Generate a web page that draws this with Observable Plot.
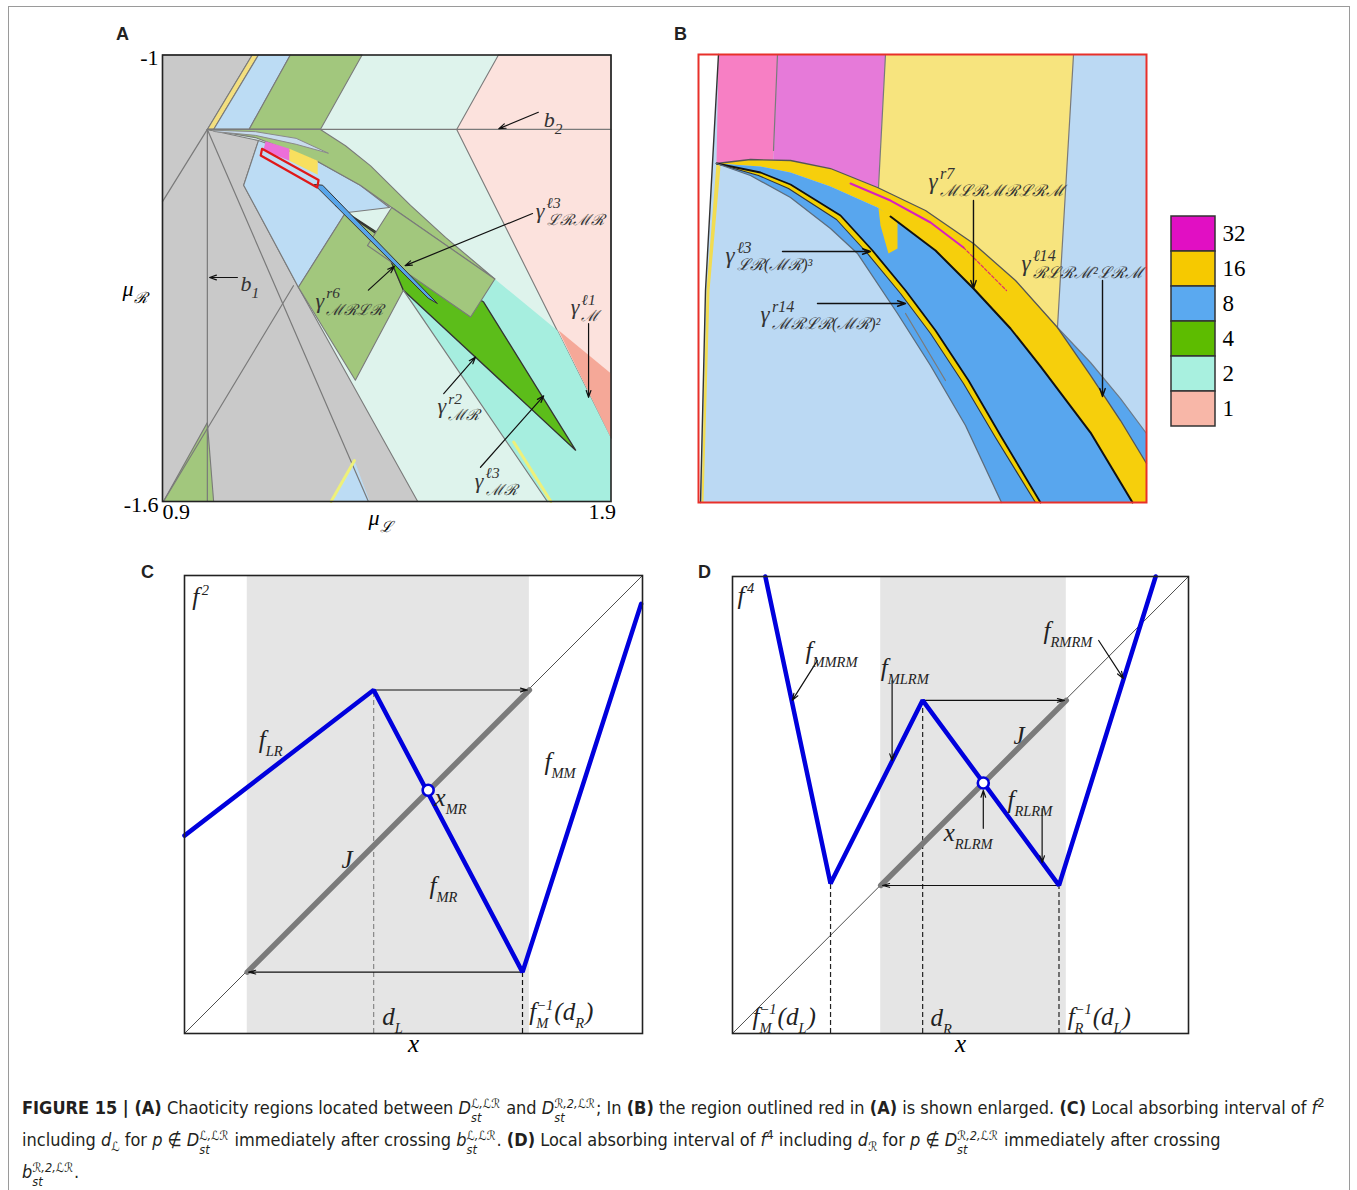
<!DOCTYPE html>
<html><head><meta charset="utf-8">
<script src="https://cdn.jsdelivr.net/npm/d3@7"></script>
<script src="https://cdn.jsdelivr.net/npm/@observablehq/plot@0.6"></script>
<style>
body{margin:0;background:#fff;}
#fig{position:relative;width:1357px;height:1190px;overflow:hidden;background:#fff;}
.pn{position:absolute;}
.lt{position:absolute;font-family:"Liberation Sans",Arial,sans-serif;font-weight:bold;font-size:18px;color:#222;}
#border{position:absolute;left:8px;top:6px;width:1340px;height:1300px;border:1px solid #9a9a9a;}
#cap{position:absolute;left:22px;top:1093px;font-family:"Liberation Sans Narrow","DejaVu Sans Condensed","Liberation Sans",Arial,sans-serif;font-stretch:condensed;font-size:18px;line-height:30px;color:#231f20;white-space:nowrap;}
#cap sup,#cap sub{font-size:0.72em;line-height:0;}
.ss{display:inline-block;vertical-align:-0.62em;line-height:1.12em;font-size:0.7em;font-style:italic;text-align:left;margin-right:1px;}
.ss span{display:block;}
</style></head>
<body>
<div id="fig">
<div id="border"></div>
<div class="lt" style="left:116px;top:24px">A</div>
<div class="lt" style="left:674px;top:24px">B</div>
<div class="lt" style="left:141px;top:562px">C</div>
<div class="lt" style="left:698px;top:562px">D</div>
<div id="pa" class="pn" style="left:100px;top:10px"></div>
<div id="pb" class="pn" style="left:660px;top:10px"></div>
<div id="pleg" class="pn" style="left:1160px;top:204px"></div>
<div id="pc" class="pn" style="left:130px;top:560px"></div>
<div id="pd" class="pn" style="left:690px;top:560px"></div>
<div id="cap"></div>
</div>
<script>
// ---------------- Panel A data (muL, muR) ----------------
const aFrame = [[0.9,-1],[1.9,-1],[1.9,-1.6],[0.9,-1.6]];
const aPink = [[1.649,-1],[1.9,-1],[1.9,-1.515],[1.556,-1.1]];
const aSalmon = [[1.783,-1.370],[1.9,-1.428],[1.9,-1.515]];
const aAqua = [[1.641,-1.301],[1.780,-1.370],[1.9,-1.515],[1.9,-1.6],[1.758,-1.6],[1.437,-1.316],[1.368,-1.261]];
const aGray = [[0.9,-1],[1.1,-1],[1.0,-1.1],[1.114,-1.115],[1.081,-1.175],[1.203,-1.312],[1.469,-1.6],[0.9,-1.6]];
const aYellowTop = [[1.1,-1],[1.114,-1],[1.014,-1.1],[1.0,-1.1]];
const aBlueTop = [[1.114,-1],[1.185,-1],[1.093,-1.1],[1.014,-1.1]];
const aOliveTop = [[1.185,-1],[1.345,-1],[1.252,-1.1],[1.093,-1.1]];
const aLightBlue = [[1.114,-1.115],[1.246,-1.143],[1.341,-1.175],[1.406,-1.205],[1.308,-1.212],[1.203,-1.312],[1.081,-1.175]];
const aOliveBand = [[1.0,-1.1],[1.252,-1.1],[1.308,-1.122],[1.364,-1.149],[1.453,-1.202],[1.531,-1.245],[1.641,-1.301],[1.411,-1.205],[1.341,-1.175],[1.246,-1.143],[1.107,-1.111]];
const aCrescent = [[1.011,-1.101],[1.107,-1.103],[1.198,-1.112],[1.270,-1.132],[1.198,-1.120],[1.107,-1.108],[1.018,-1.103]];
const aLowerOlive = [[1.203,-1.312],[1.308,-1.212],[1.386,-1.244],[1.437,-1.316],[1.330,-1.437]];
const aCornerOlive = [[0.902,-1.6],[1.0,-1.494],[1.014,-1.6]];
const aBluePatch = [[1.275,-1.6],[1.328,-1.545],[1.362,-1.6]];
const aTriangle = [[1.286,-1.202],[1.616,-1.332],[1.821,-1.531],[1.437,-1.316],[1.386,-1.244],[1.308,-1.212]];
const aRect = [[1.411,-1.205],[1.641,-1.301],[1.587,-1.352],[1.357,-1.256]];
const aSliver = [[1.239,-1.174],[1.257,-1.175],[1.513,-1.334],[1.493,-1.327]];
const aMagenta = [[1.130,-1.116],[1.183,-1.126],[1.183,-1.142],[1.125,-1.128]];
const aYellowPatch = [[1.183,-1.126],[1.246,-1.142],[1.246,-1.161],[1.183,-1.142]];
const aRedBox = [[1.122,-1.126],[1.248,-1.168],[1.245,-1.178],[1.119,-1.135]];
const aLines = [
  [[1.0,-1.1],[0.9,-1.197]],
  [[1.0,-1.1],[1.0,-1.6]],
  [[1.0,-1.1],[1.359,-1.6]],
  [[1.0,-1.1],[1.9,-1.1]],
  [[0.902,-1.6],[1.192,-1.310]],
  [[1.437,-1.316],[1.758,-1.6]]
];
const aYellowLines = [[[1.683,-1.52],[1.766,-1.6]],[[1.276,-1.6],[1.328,-1.545]]];
const aTicksX = [0.9, 1.9];
const aTicksY = [-1, -1.6];
const aAxisLabels = [{t:"μ_{ℛ}", y:-1.314}, {t:"μ_{ℒ}", x:1.386}];
const aLabels = [
  {x:1.750, y:-1.087, t:"b_{2}"},
  {x:1.074, y:-1.307, t:"b_{1}"},
  {x:1.732, y:-1.209, t:"γ^{ℓ3}_{ℒℛℳℛ}"},
  {x:1.241, y:-1.330, t:"γ^{r6}_{ℳℛℒℛ}"},
  {x:1.513, y:-1.472, t:"γ^{r2}_{ℳℛ}"},
  {x:1.596, y:-1.572, t:"γ^{ℓ3}_{ℳℛ}"},
  {x:1.810, y:-1.339, t:"γ^{ℓ1}_{ℳ}"}
];
const aArrows = [
  [1.738,-1.077,1.650,-1.099],
  [1.067,-1.299,1.005,-1.299],
  [1.725,-1.213,1.441,-1.283],
  [1.359,-1.316,1.417,-1.284],
  [1.527,-1.455,1.598,-1.406],
  [1.609,-1.554,1.750,-1.458],
  [1.850,-1.361,1.850,-1.460]
];

// ---------------- Panel B data (u, v in 0..100, v downward) ----------------
const bGtop = [[4.02,24.33],[11.61,23.44],[20.54,23.66],[29.46,25.45],[39.96,29.69],[50.67,34.82],[61.38,42.19],[70.76,50.45],[80.13,60.94],[87.50,71.65],[94.20,81.70],[100,91.29]];
const bOuter = [[80.13,60.94],[87.50,68.75],[94.20,76.79],[100,84.60]];
const bGin = [[4.02,24.33],[13.84,25.0],[20.54,26.34],[29.46,29.46],[39.96,34.15],[42.86,36.16],[52.90,43.75],[61.38,52.23],[69.64,61.16],[76.34,69.64],[87.50,84.38],[96.88,100]];
const bC3 = [[4.02,24.33],[13.84,26.34],[20.54,29.02],[31.70,35.94],[38.84,43.75],[46.21,52.68],[52.90,61.61],[60.27,72.77],[67.41,85.04],[76.34,100]];
const bC4 = [[4.02,24.33],[13.39,27.01],[20.09,29.91],[30.80,36.83],[37.72,44.42],[45.09,53.35],[51.79,62.28],[59.15,73.44],[66.29,85.49],[75.22,100]];
const bC5 = [[4.02,24.33],[11.61,27.01],[20.54,31.92],[29.46,38.84],[35.49,44.42],[44.42,57.81],[51.79,69.42],[59.60,82.81],[67.63,100]];
const bFrame = [[0,0],[100,0],[100,100],[0,100]];
const bPink = [[4.46,0],[17.63,0],[16.74,23.88],[11.61,23.44],[4.02,24.33]];
const bOrchid = [[17.63,0],[41.74,0],[40.18,29.69],[29.46,25.45],[20.54,23.66],[16.74,23.88]];
const bLightYellow = [[41.74,0],[83.71,0],[80.13,60.94],[70.76,50.45],[61.38,42.19],[50.67,34.82],[40.18,29.69]];
const bWhite = [[0,0],[4.46,0],[1.56,52.68],[0.45,100],[0,100]];
const bLeftLine = [[4.46,0],[1.56,52.68],[0.45,100]];
const bLeftYellow = [[4.02,24.33],[4.91,25.0],[2.46,52.68],[1.12,100],[0.67,100],[1.79,52.68]];
const bNotch = [[40.18,34.38],[44.42,36.61],[44.42,43.30],[42.41,44.42],[40.63,38.17]];
const bSepLines = [[[17.63,0],[16.74,21.43]],[[83.71,0],[80.13,60.94]],[[41.74,0],[40.18,29.69]],[[46.21,57.81],[55.13,72.77]]];
const bMagentaLine = [[33.93,28.79],[42.86,32.59],[51.79,37.5],[59.15,43.08]];
const bMagentaDash = [[59.15,43.08],[68.75,52.68]];
const bLabels = [
  {x:51.34, y:28.3, t:"γ^{r7}_{ℳℒℛℳℛℒℛℳ}"},
  {x:72.10, y:46.7, t:"γ^{ℓ14}_{ℛℒℛℳ²ℒℛℳ}"},
  {x:6.03, y:44.9, t:"γ^{ℓ3}_{ℒℛ(ℳℛ)³}"},
  {x:13.84, y:58.0, t:"γ^{r14}_{ℳℛℒℛ(ℳℛ)²}"}
];
const bArrows = [
  [61.38,32.59,61.38,52.23],
  [90.18,50.45,90.18,76.34],
  [18.75,43.97,38.39,43.97],
  [26.56,55.58,46.21,55.58]
];
const legendLabels = ["32","16","8","4","2","1"];
const legendColors = ["#e10fc3","#f6c900","#5aa9f0","#5dbc00","#a8f0df","#f8b7a8"];

// ---------------- Panel C data (unit square) ----------------
const cBand = [[0.137, 0.753]];
const cDiag = [0, 1];
const cBlue = [[0,0.432],[0.413,0.750],[0.738,0.134],[0.997,0.938]];
const cJ = [[0.137,0.134],[0.753,0.750]];
const cFixed = [[0.532,0.531]];
const cArrows = [[0.413,0.750,0.749,0.750],[0.738,0.134,0.140,0.134]];
const cDashGray = [[0.413,0.750]];
const cDashBlack = [[0.738,0.134]];
const cLabels = [
  {x:0.017,y:0.952,t:"f^{2}"},
  {x:0.162,y:0.640,t:"f_{LR}"},
  {x:0.786,y:0.592,t:"f_{MM}"},
  {x:0.546,y:0.515,t:"x_{MR}"},
  {x:0.343,y:0.378,t:"J"},
  {x:0.535,y:0.321,t:"f_{MR}"},
  {x:0.432,y:0.035,t:"d_{L}"},
  {x:0.753,y:0.046,t:"f_{M}^{−1}(d_{R})"}
];

// ---------------- Panel D data (unit square) ----------------
const dBand = [[0.325, 0.732]];
const dDiag = [0, 1];
const dBlue = [[0.072,1.0],[0.215,0.328],[0.417,0.729],[0.716,0.324],[0.928,1.0]];
const dJ = [[0.325,0.324],[0.732,0.729]];
const dFixed = [[0.550,0.548]];
const dArrows = [[0.417,0.729,0.728,0.729],[0.716,0.324,0.329,0.324]];
const dNoteArrows = [[0.186,0.816,0.131,0.729],[0.350,0.772,0.350,0.597],[0.803,0.860,0.857,0.777],[0.679,0.492,0.679,0.374],[0.550,0.449,0.550,0.532]];
const dDash = [[0.215,0.328],[0.417,0.729],[0.716,0.324]];
const dLabels = [
  {x:0.011,y:0.958,t:"f^{4}"},
  {x:0.160,y:0.838,t:"f_{MMRM}"},
  {x:0.325,y:0.799,t:"f_{MLRM}"},
  {x:0.682,y:0.880,t:"f_{RMRM}"},
  {x:0.616,y:0.650,t:"J"},
  {x:0.603,y:0.510,t:"f_{RLRM}"},
  {x:0.463,y:0.438,t:"x_{RLRM}"},
  {x:0.044,y:0.037,t:"f_{M}^{−1}(d_{L})"},
  {x:0.434,y:0.035,t:"d_{R}"},
  {x:0.735,y:0.037,t:"f_{R}^{−1}(d_{L})"}
];

// ---------------- helpers ----------------
const SERIF = "Liberation Serif, DejaVu Serif, serif";
const GL = "#7a7a7a";
const P = (pts, fill, stroke = GL, sw = 1.1) => Plot.line(pts, {x: d => d[0], y: d => d[1], curve: "linear-closed", fill, stroke, strokeWidth: sw, strokeLinejoin: "round"});
const L = (pts, stroke, sw, extra = {}) => Plot.line(pts, {x: d => d[0], y: d => d[1], stroke, strokeWidth: sw, ...extra});
const AR = (arr, opts = {}) => Plot.arrow(arr, {x1: d => d[0], y1: d => d[1], x2: d => d[2], y2: d => d[3], stroke: "#111", strokeWidth: 1.2, headLength: 9, headAngle: 38, ...opts});
const TX = (arr, opts = {}) => Plot.text(arr, {x: d => d.x, y: d => d.y, text: d => d.t, textAnchor: "start", fontFamily: SERIF, ...opts});

function rich(svg, subScale = 0.64) {
  const NS = "http://www.w3.org/2000/svg";
  svg.querySelectorAll("text").forEach(t => {
    const s = t.textContent;
    if (!/[_^]\{/.test(s)) return;
    const fs = parseFloat(getComputedStyle(t).fontSize) || 16;
    while (t.firstChild) t.removeChild(t.firstChild);
    const toks = [];
    let i = 0, buf = "";
    while (i < s.length) {
      if ((s[i] === "_" || s[i] === "^") && s[i + 1] === "{") {
        if (buf) { toks.push({k: "b", s: buf}); buf = ""; }
        const k = s[i] === "_" ? "sub" : "sup";
        const j = s.indexOf("}", i + 2);
        toks.push({k, s: s.slice(i + 2, j)});
        i = j + 1;
      } else { buf += s[i]; i++; }
    }
    if (buf) toks.push({k: "b", s: buf});
    let cur = 0, prev = null;
    toks.forEach(tk => {
      const sp = document.createElementNS(NS, "tspan");
      const target = tk.k === "sup" ? -0.42 * fs : tk.k === "sub" ? 0.32 * fs : 0;
      sp.setAttribute("dy", target - cur);
      cur = target;
      if (tk.k !== "b") sp.setAttribute("font-size", subScale * fs);
      sp.textContent = tk.s;
      t.appendChild(sp);
      if (prev && prev.k !== "b" && tk.k !== "b" && prev.k !== tk.k) {
        sp.setAttribute("dx", -prev.el.getComputedTextLength());
      } else if (tk.k === "sup" && prev && prev.k === "b") {
        sp.setAttribute("dx", 0.1 * fs);
      } else if (tk.k === "b" && prev && prev.k !== "b") {
        sp.setAttribute("dx", 0.04 * fs);
      }
      prev = {k: tk.k, el: sp};
    });
  });
}

// ---------------- Panel A ----------------
const plotA = Plot.plot({
  width: 560, height: 550, marginLeft: 62, marginRight: 49.5, marginTop: 44.5, marginBottom: 59,
  x: {domain: [0.9, 1.9], axis: null}, y: {domain: [-1.6, -1], axis: null},
  style: {background: "transparent", overflow: "visible"},
  marks: [
    P(aFrame, "#def3ec", "none"),
    P(aPink, "#fce2dd"),
    P(aSalmon, "#f5a898", "none", 0),
    P(aAqua, "#a6eedf", "none", 0),
    P(aGray, "#c9c9c9"),
    P(aYellowTop, "#f3df7f"),
    P(aBlueTop, "#bcdcf4"),
    P(aOliveTop, "#a2c77d"),
    P(aLightBlue, "#bcdcf4"),
    P(aOliveBand, "#a2c77d"),
    P(aCrescent, "#c8dcee", "#8a8a8a", 1),
    P(aLowerOlive, "#a2c77d"),
    P(aCornerOlive, "#a2c77d"),
    P(aBluePatch, "#bcdcf4", "none"),
    P(aTriangle, "#5cbd1a", "#333", 1.3),
    P(aRect, "#a2c77d"),
    P(aSliver, "#57a5ea", "#333", 1),
    P(aMagenta, "#ec6fd8", "none"),
    P(aYellowPatch, "#f8df5e", "none"),
    P(aRedBox, "none", "#e01818", 2.2),
    ...aLines.map(s => L(s, GL, 1.2)),
    ...aYellowLines.map(s => L(s, "#eef07a", 3)),
    AR(aArrows),
    TX(aLabels, {fontSize: 22, fill: "#333", fontStyle: "italic"}),
    Plot.text(aTicksY, {y: d => d, frameAnchor: "left", textAnchor: "end", dx: -4, dy: 3, text: d => String(d), fontFamily: SERIF, fontSize: 22}),
    Plot.text([aTicksX[0]], {x: d => d, frameAnchor: "bottom", textAnchor: "start", dy: 17, text: d => String(d), fontFamily: SERIF, fontSize: 22}),
    Plot.text([aTicksX[1]], {x: d => d, frameAnchor: "bottom", textAnchor: "end", dx: 5, dy: 17, text: d => String(d), fontFamily: SERIF, fontSize: 22}),
    Plot.text([aAxisLabels[0]], {y: d => d.y, frameAnchor: "left", textAnchor: "middle", dx: -28, text: d => d.t, fontFamily: SERIF, fontSize: 22, fontStyle: "italic"}),
    Plot.text([aAxisLabels[1]], {x: d => d.x, frameAnchor: "bottom", textAnchor: "middle", dy: 23, text: d => d.t, fontFamily: SERIF, fontSize: 22, fontStyle: "italic"}),
    Plot.frame({stroke: "#222", strokeWidth: 1.6})
  ]
});
document.getElementById("pa").appendChild(plotA);

// ---------------- Panel B ----------------
const rev = a => [...a].reverse();
const bGold = [...bGtop, [100, 100], ...rev(bGin)];
const bThin = [...bOuter, ...rev(bGtop.slice(8))];
const bBigBlue = [...bGin, ...rev(bC3)];
const bYStrip = [...bC3, ...rev(bC4)];
const bInnerBlue = [...bC4, ...rev(bC5)];
const plotB = Plot.plot({
  width: 600, height: 550, marginLeft: 38, marginRight: 114, marginTop: 44, marginBottom: 58,
  x: {domain: [0, 100], axis: null}, y: {domain: [0, 100], reverse: true, axis: null},
  style: {background: "transparent", overflow: "visible"},
  marks: [
    P(bFrame, "#bbd9f3", "none"),
    P(bWhite, "#ffffff", "none"),
    P(bPink, "#f77fc4", "none"),
    P(bOrchid, "#e67ad9", "none"),
    P(bLightYellow, "#f7e47e", "none"),
    P(bThin, "#58a6ee", "none"),
    P(bGold, "#f6cf0c", "none"),
    P(bBigBlue, "#58a6ee", "none"),
    P(bYStrip, "#f2d000", "none"),
    P(bInnerBlue, "#58a6ee", "none"),
    P(bNotch, "#f6cf0c", "none"),
    P(bLeftYellow, "#f2dc50", "none"),
    L(bLeftLine, "#333", 1.4),
    ...bSepLines.map(s => L(s, "#7a7a7a", 1.2)),
    L(bOuter, "#6c7a88", 1.2),
    L(bGtop, "#555", 1.3),
    L(bGin.slice(5), "#111", 2),
    L(bC3, "#111", 1.8),
    L(bC4, "#333", 1.1),
    L(bC5, "#5d6d7d", 1.3),
    L(bMagentaLine, "#d81fc0", 2),
    L(bMagentaDash, "#e0306a", 1.2, {strokeDasharray: "3,2"}),
    AR(bArrows, {strokeWidth: 1.4}),
    TX(bLabels, {fontSize: 23, fill: "#333", fontStyle: "italic"}),
    Plot.frame({stroke: "#e8302a", strokeWidth: 2})
  ]
});
document.getElementById("pb").appendChild(plotB);

// legend
const plotLeg = Plot.plot({
  width: 110, height: 230, marginLeft: 11, marginRight: 55, marginTop: 10, marginBottom: 6.5,
  x: {domain: ["c"], axis: null, padding: 0},
  y: {domain: legendLabels, padding: 0, axis: "right", tickSize: 0, tickPadding: 7, label: null},
  color: {type: "identity"},
  style: {background: "transparent", fontSize: "23px", fontFamily: SERIF, overflow: "visible"},
  marks: [Plot.cell(legendLabels, {x: () => "c", y: d => d, fill: (d, i) => legendColors[i], stroke: "#333", strokeWidth: 1.5})]
});
document.getElementById("pleg").appendChild(plotLeg);

// ---------------- Panels C and D ----------------
function mapPanel(band, diag, blue, J, fixed, arrows, dashes, noteArrows, labels, dims) {
  return Plot.plot({
    width: dims.w, height: dims.h, marginLeft: dims.ml, marginRight: dims.mr, marginTop: dims.mt, marginBottom: dims.mb,
    x: {domain: [0, 1], axis: null}, y: {domain: [0, 1], axis: null},
    style: {background: "transparent", overflow: "visible"},
    marks: [
      Plot.rect(band, {x1: d => d[0], x2: d => d[1], y1: () => 0, y2: () => 1, fill: "#e5e5e5"}),
      Plot.line(diag, {x: d => d, y: d => d, stroke: "#222", strokeWidth: 0.8}),
      ...dashes.map(([arr, col]) => Plot.ruleX(arr, {x: d => d[0], y1: () => 0, y2: d => d[1], stroke: col, strokeWidth: 1.2, strokeDasharray: "5,3"})),
      L(J, "#7b7b7b", 5.5),
      AR(arrows, {strokeWidth: 1.1, headLength: 10, headAngle: 30}),
      L(blue, "#0000dd", 4.5, {strokeLinejoin: "miter"}),
      Plot.dot(fixed, {x: d => d[0], y: d => d[1], r: 5.5, fill: "white", stroke: "#0000dd", strokeWidth: 2.6}),
      ...(noteArrows ? [AR(noteArrows, {strokeWidth: 1.2})] : []),
      TX(labels, {fontSize: 25, fontStyle: "italic", fill: "#222"}),
      Plot.text(["x"], {frameAnchor: "bottom", textAnchor: "middle", dy: 18, text: d => d, fontFamily: SERIF, fontSize: 25, fontStyle: "italic"}),
      Plot.frame({stroke: "#222", strokeWidth: 1.6})
    ]
  });
}
const plotC = mapPanel(cBand, cDiag, cBlue, cJ, cFixed, cArrows, [[cDashGray, "#888"], [cDashBlack, "#111"]], null, cLabels,
  {w: 540, h: 510, ml: 54, mr: 28, mt: 15, mb: 37});
document.getElementById("pc").appendChild(plotC);
const plotD = mapPanel(dBand, dDiag, dBlue, dJ, dFixed, dArrows, [[dDash, "#222"]], dNoteArrows, dLabels,
  {w: 530, h: 510, ml: 42, mr: 32, mt: 16, mb: 37});
document.getElementById("pd").appendChild(plotD);

rich(plotA, 0.7);
rich(plotB, 0.7);
rich(plotC, 0.58);
rich(plotD, 0.58);

// ---------------- caption ----------------
const SS = (up) => `<span class="ss"><span>${up}</span><span>st</span></span>`;
document.getElementById("cap").innerHTML =
  `<b>FIGURE 15 | (A)</b> Chaoticity regions located between <i>D</i>${SS("ℒ,ℒℛ")} and <i>D</i>${SS("ℛ,2,ℒℛ")}; In <b>(B)</b> the region outlined red in <b>(A)</b> is shown enlarged. <b>(C)</b> Local absorbing interval of <i>f</i><sup>2</sup><br>` +
  `including <i>d</i><sub><i>ℒ</i></sub> for <i>p</i> ∉ <i>D</i>${SS("ℒ,ℒℛ")} immediately after crossing <i>b</i>${SS("ℒ,ℒℛ")}. <b>(D)</b> Local absorbing interval of <i>f</i><sup>4</sup> including <i>d</i><sub><i>ℛ</i></sub> for <i>p</i> ∉ <i>D</i>${SS("ℛ,2,ℒℛ")} immediately after crossing<br>` +
  `<i>b</i>${SS("ℛ,2,ℒℛ")}.`;
</script>
</body></html>
